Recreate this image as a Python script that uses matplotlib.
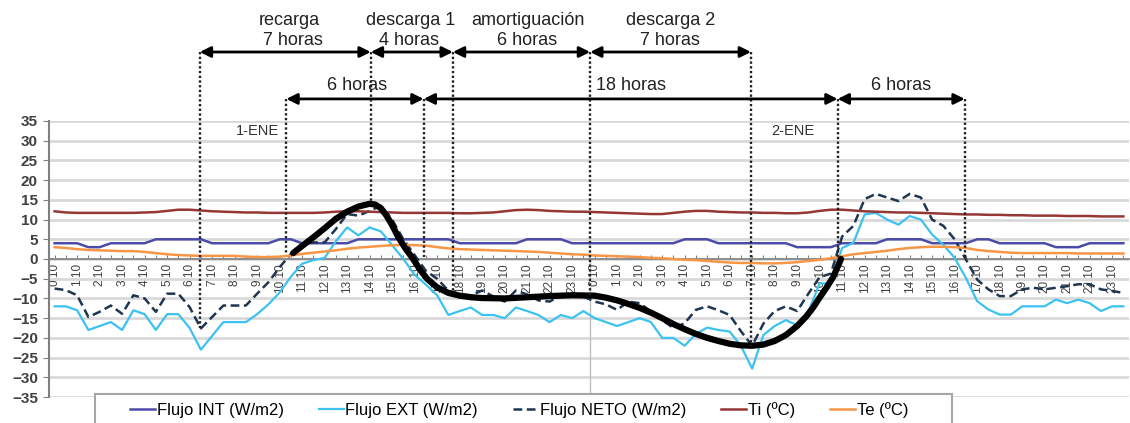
import matplotlib
matplotlib.use('Agg')
import matplotlib.pyplot as plt
from matplotlib.patches import Rectangle

plt.rcParams['font.family'] = ['Liberation Sans', 'DejaVu Sans']

# half-hourly readings, two days (1-ENE, 2-ENE)
hours = list(range(24)) * 2
tick_labels = []
for h in hours:
    tick_labels += ['%d:10' % h, '']

flujo_int = [4, 4, 4, 3, 3, 4, 4, 4, 4, 5, 5, 5, 5, 5, 4, 4, 4, 4, 4, 4, 5, 5, 4, 4,
             4, 4, 4, 5, 5, 5, 5, 5, 5, 5, 5, 5, 4, 4, 4, 4, 4, 4, 5, 5, 5, 5, 4, 4,
             4, 4, 4, 4, 4, 4, 4, 4, 5, 5, 5, 4, 4, 4, 4, 4, 4, 4, 3, 3, 3, 3, 4, 4,
             4, 4, 5, 5, 5, 5, 4, 4, 4, 4, 5, 5, 4, 4, 4, 4, 4, 3, 3, 3, 4, 4, 4, 4]

flujo_ext = [-12, -12, -13, -18, -17, -16, -18, -13, -14, -18, -14, -14, -17.5, -23, -19.5, -16,
             -16, -16, -14, -11.5, -8.5, -4.5, -1.2, -0.3, 0.3, 4.5, 8, 6, 8, 7, 3.5, 0,
             -4, -6.5, -9.2, -14.2, -13.2, -12.3, -14.2, -14.2, -15, -12.3, -13.2, -14.2, -16, -14.2,
             -15, -13.2, -15, -16, -17, -16, -15, -16, -20, -20, -22, -19, -17.4, -18, -18.4, -22,
             -27.8, -19.3, -17, -15.5, -16.8, -13.4, -6.2, -6.2, 2.8, 4.1, 11.3, 11.7, 10, 8.7,
             10.9, 10, 6.2, 3.6, 0.3, -4.8, -10.7, -12.8, -14.1, -14.1, -12, -12, -12, -10.3,
             -11.2, -10.3, -11.2, -13.2, -12, -12]

flujo_neto = [-7.5, -7.9, -9.2, -14.7, -13.4, -11.8, -13.9, -9.2, -10, -13.4, -8.8, -8.8, -12.2, -17.6,
              -14.7, -11.8, -11.8, -11.8, -8.8, -5.9, -2.1, 1.3, 3.8, 4.2, 4.2, 7.6, 11.4, 11, 12.2,
              13.5, 10, 5, 1, -3, -5, -8, -9, -9.2, -8, -9.5, -10.8, -8, -9, -10.5, -10.8, -9.2,
              -9.5, -9.5, -10.8, -11.5, -12.9, -10.8, -11.2, -13.3, -15.5, -17.5, -16.3, -12.9, -12,
              -13, -14.2, -18.3, -22, -16.4, -13.2, -12, -13.2, -8.8, -4.6, -3.7, 5.7, 8.4, 15.2,
              16.5, 15.6, 14.7, 16.5, 15.6, 10, 8.4, 5, -0.1, -5.2, -7.7, -9.4, -9.4, -7.7, -7.3,
              -7.7, -7.3, -6.9, -6.4, -6.4, -7.7, -8.1, -8.6]

ti = [12.1, 11.8, 11.7, 11.7, 11.7, 11.7, 11.7, 11.7, 11.8, 11.9, 12.2, 12.5, 12.5, 12.3, 12.1, 12.0,
      11.9, 11.8, 11.8, 11.7, 11.7, 11.7, 11.7, 11.7, 11.8, 12.0, 12.1, 12.1, 12.0, 11.9, 11.8, 11.7,
      11.7, 11.7, 11.7, 11.7, 11.6, 11.6, 11.7, 11.8, 12.1, 12.4, 12.5, 12.4, 12.2, 12.1, 12.0, 12.0,
      11.9, 11.8, 11.7, 11.6, 11.5, 11.4, 11.4, 11.7, 12.0, 12.2, 12.2, 12.0, 11.9, 11.8, 11.8, 11.7,
      11.7, 11.6, 11.6, 11.8, 12.2, 12.5, 12.5, 12.3, 12.1, 12.0, 11.9, 11.8, 11.8, 11.7, 11.6, 11.5,
      11.4, 11.3, 11.3, 11.2, 11.2, 11.1, 11.1, 11.0, 11.0, 11.0, 10.9, 10.9, 10.9, 10.8, 10.8, 10.8]

te = [3.0, 2.8, 2.5, 2.3, 2.2, 2.1, 2.0, 2.0, 1.8, 1.5, 1.2, 1.0, 0.9, 0.8, 0.8, 0.8,
      0.8, 0.6, 0.5, 0.5, 0.6, 0.9, 1.3, 1.6, 1.9, 2.2, 2.6, 2.9, 3.1, 3.3, 3.5, 3.6,
      3.5, 3.4, 3.0, 2.7, 2.5, 2.4, 2.3, 2.2, 2.1, 2.0, 1.9, 1.8, 1.6, 1.4, 1.2, 1.1,
      0.9, 0.8, 0.7, 0.6, 0.5, 0.3, 0.2, 0.0, -0.2, -0.3, -0.5, -0.7, -0.9, -1.0, -1.0, -1.1,
      -1.1, -1.0, -0.8, -0.5, -0.2, 0.2, 0.7, 1.2, 1.5, 1.8, 2.1, 2.5, 2.8, 3.0, 3.1, 3.1,
      3.0, 2.8, 2.3, 2.0, 1.8, 1.6, 1.5, 1.5, 1.5, 1.5, 1.5, 1.4, 1.4, 1.4, 1.4, 1.4]

# hand-drawn trend of the net flux (position in half-hours, value)
trend_x = [21.2, 22, 23, 24, 25, 26, 27, 28, 28.5, 29, 29.5, 30, 30.5, 31.2, 31.8, 32.5, 33.1, 34,
           35, 36, 37, 38, 40, 42, 44, 46, 48, 49, 50, 51, 52, 53, 54, 55, 56, 57, 58, 59, 60,
           61, 62, 63, 64, 65, 66, 66.8, 67.4, 68, 68.6, 69.2, 69.9]
trend_y = [1.5, 3.3, 5.5, 7.8, 10.2, 12.0, 13.3, 14.0, 13.8, 12.9, 11.0, 8.6, 5.8, 2.6, 0.3, -2.8, -5.0, -7.2,
           -8.6, -9.3, -9.7, -9.9, -10.0, -9.7, -9.4, -9.2, -9.3, -9.8, -10.5, -11.4, -12.4, -13.6, -15.0, -16.5,
           -17.8, -19.0, -20.0, -20.8, -21.5, -21.9, -22.0, -21.7, -20.8, -19.3, -17.0, -14.6, -12.4, -9.8, -7.3,
           -4.6, 0.0]

x = list(range(len(flujo_int)))

fig = plt.figure(figsize=(11.3, 4.23), dpi=100)
ax = fig.add_axes([49 / 1130, 26 / 423, 1080 / 1130, 276 / 423])

ax.plot(x, flujo_int, color='#4B4BA8', lw=1.8, label='Flujo INT (W/m2)', zorder=3)
ax.plot(x, flujo_ext, color='#3CC2F0', lw=1.6, label='Flujo EXT (W/m2)', zorder=3)
ax.plot(x, flujo_neto, color='#1F3550', lw=1.8, ls=(0, (3.5, 1.8)), label='Flujo NETO (W/m2)', zorder=3)
ax.plot(x, ti, color='#953735', lw=1.8, label='Ti (ºC)', zorder=3)
ax.plot(x, te, color='#F79646', lw=1.8, label='Te (ºC)', zorder=3)
ax.plot(trend_x, trend_y, color='black', lw=4.5, solid_capstyle='round',
        solid_joinstyle='round', zorder=5)

ax.set_xlim(-0.5, len(x) - 0.5)
ax.set_ylim(-35, 35)
ax.set_yticks(range(-35, 36, 5))
ax.yaxis.grid(True, color='#D9D9D9', lw=2)
ax.set_axisbelow(True)

ax.spines['top'].set_visible(False)
ax.spines['right'].set_visible(False)
ax.spines['left'].set_color('#808080')
ax.spines['left'].set_linewidth(1.5)
ax.spines['bottom'].set_position(('data', 0))
ax.spines['bottom'].set_color('#808080')
ax.spines['bottom'].set_linewidth(1.2)

ax.set_xticks(x)
ax.set_xticklabels(tick_labels, rotation=90, fontsize=8.5, color='#404040')
ax.tick_params(axis='x', direction='in', length=3, color='#808080', pad=3)
ax.tick_params(axis='y', length=4, color='#808080', labelsize=11, labelcolor='#404040', pad=4)
for lab in ax.get_yticklabels():
    lab.set_fontweight('bold')

# day change
ax.plot([47.6, 47.6], [0, -35], color='#BFBFBF', lw=1, zorder=2)

# phase boundaries
row1, row2 = 52.5, 40.6
dot = dict(color='#222222', lw=1.7, ls=(0, (1, 1)), clip_on=False, zorder=6)
for px, top, bot in [(12.9, row1, -17.6), (20.6, row2, 1.3), (28.1, row1, 14), (32.8, row2, 0.5),
                     (35.4, row1, -8.5), (47.6, row1, -9.3), (61.9, row1, -22),
                     (69.6, row2, 0), (80.9, row2, 0)]:
    ax.plot([px, px], [top, bot], **dot)

arrow = dict(arrowstyle='<|-|>', color='black', lw=2, mutation_scale=16, shrinkA=0, shrinkB=0)
for a, b, yy in [(12.9, 28.1, row1), (28.1, 35.4, row1), (35.4, 47.6, row1), (47.6, 61.9, row1),
                 (20.6, 32.8, row2), (32.8, 69.6, row2), (69.6, 80.9, row2)]:
    ax.annotate('', xy=(b, yy), xytext=(a, yy), arrowprops=arrow, annotation_clip=False, zorder=7)

txt = dict(fontsize=13, color='#222222', ha='center', va='center', clip_on=False)
ax.text(20.9, 60.6, 'recarga', **txt)
ax.text(21.2, 55.5, '7 horas', **txt)
ax.text(31.6, 60.6, 'descarga 1', **txt)
ax.text(31.5, 55.5, '4 horas', **txt)
ax.text(42.1, 60.6, 'amortiguación', **txt)
ax.text(42.0, 55.5, '6 horas', **txt)
ax.text(54.8, 60.6, 'descarga 2', **txt)
ax.text(54.7, 55.5, '7 horas', **txt)
ax.text(26.9, 44.1, '6 horas', **txt)
ax.text(51.2, 44.1, '18 horas', **txt)
ax.text(75.2, 44.1, '6 horas', **txt)
ax.text(18.0, 32.5, '1-ENE', fontsize=10.5, color='#333333', ha='center', va='center')
ax.text(65.6, 32.5, '2-ENE', fontsize=10.5, color='#333333', ha='center', va='center')

# legend box
fig.patches.append(Rectangle((95 / 1130, -0.05), 857 / 1130, 0.05 + 29 / 423, transform=fig.transFigure,
                             facecolor='white', edgecolor='#A6A6A6', lw=1.5, zorder=8))
leg = fig.legend(loc='center left', bbox_to_anchor=(130 / 1130, 13 / 423), ncol=5, frameon=False,
                 fontsize=12, handlelength=1.5, handletextpad=0.1, columnspacing=2.1,
                 borderpad=0, borderaxespad=0)
leg.set_zorder(9)

fig.savefig('out.png', dpi=100)
